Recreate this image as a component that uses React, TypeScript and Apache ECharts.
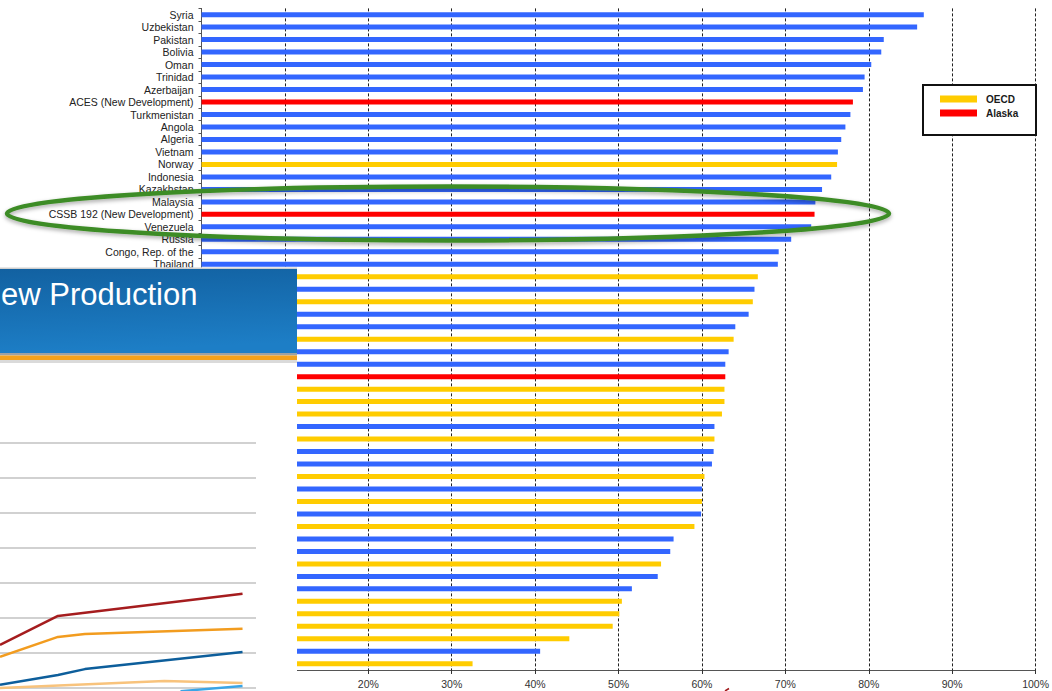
import React, { useEffect, useRef } from "react";
import * as echarts from "echarts";

// Recovery share by country / project, top to bottom
const countries = [
  "Syria", "Uzbekistan", "Pakistan", "Bolivia", "Oman", "Trinidad", "Azerbaijan",
  "ACES (New Development)", "Turkmenistan", "Angola", "Algeria", "Vietnam", "Norway",
  "Indonesia", "Kazakhstan", "Malaysia", "CSSB 192 (New Development)", "Venezuela",
  "Russia", "Congo, Rep. of the", "Thailand",
  // rows whose names sit under the inset panel
  "", "", "", "", "", "", "", "", "", "", "", "", "", "", "", "",
  "", "", "", "", "", "", "", "", "", "", "", "", "", "", "", "",
];

const shares = [
  86.6, 85.8, 81.8, 81.5, 80.3, 79.5, 79.3, 78.1, 77.8, 77.2, 76.7, 76.3, 76.2,
  75.5, 74.4, 73.6, 73.5, 73.1, 70.7, 69.2, 69.1,
  66.7, 66.3, 66.1, 65.6, 64.0, 63.8, 63.2, 62.8, 62.8, 62.7, 62.7, 62.4, 61.5,
  61.5, 61.4, 61.2, 60.3, 60.0, 60.0, 59.9, 59.1, 56.6, 56.2, 55.1, 54.7, 51.6,
  50.4, 50.1, 49.3, 44.1, 40.6, 32.5,
];

// o = other, e = OECD, a = Alaska
const groups = [
  "o", "o", "o", "o", "o", "o", "o", "a", "o", "o", "o", "o", "e",
  "o", "o", "o", "a", "o", "o", "o", "o",
  "e", "o", "e", "o", "o", "e", "o", "o", "a", "e", "e", "e", "o",
  "e", "o", "o", "e", "o", "e", "o", "e", "o", "o", "e", "o", "o",
  "e", "e", "e", "e", "o", "e",
];

const shareTicks = [0, 10, 20, 30, 40, 50, 60, 70, 80, 90, 100];

// Inset production curves: [period, level]
const curveRed = [[0, 1.23], [2.15, 2.06], [9.0, 2.69]];
const curveOrange = [[0, 0.89], [2.15, 1.46], [3.15, 1.54], [9.0, 1.69]];
const curveNavy = [[0, 0.09], [2.15, 0.37], [3.15, 0.54], [9.0, 1.03]];
const curvePeach = [[0, 0.0], [6.1, 0.2], [9.0, 0.14]];
const curveSky = [[6.7, -0.09], [9.0, 0.06]];

const FONT = "'Liberation Sans', Arial, sans-serif";

function groupSeries(name: string, key: string, color: string) {
  return {
    name,
    type: "bar",
    stack: "share",
    barWidth: 5,
    xAxisIndex: 0,
    yAxisIndex: 0,
    itemStyle: { color },
    data: shares.map((v, i) => (groups[i] === key ? v : "-")),
  };
}

function curve(data: number[][], color: string) {
  return {
    type: "line",
    xAxisIndex: 1,
    yAxisIndex: 1,
    showSymbol: false,
    clip: false,
    z: 25,
    lineStyle: { color, width: 2.5 },
    data,
  };
}

export default function App() {
  const ref = useRef<HTMLDivElement>(null);

  useEffect(() => {
    if (!ref.current) return;
    const chart = echarts.init(ref.current, undefined, { renderer: "svg" });

    const option = {
      animation: false,
      backgroundColor: "#ffffff",
      textStyle: { fontFamily: FONT },
      grid: [
        { left: 201.5, right: 13.5, top: 8.4, bottom: 21 },
        { left: 0, top: 443, width: 256, height: 245 },
      ],
      xAxis: [
        {
          type: "value",
          gridIndex: 0,
          min: shareTicks[0],
          max: shareTicks[shareTicks.length - 1],
          interval: 10,
          axisLine: { show: true, lineStyle: { color: "#555", width: 1 } },
          axisTick: { show: true, length: 4, lineStyle: { color: "#333" } },
          axisLabel: {
            margin: 8,
            fontSize: 10.5,
            color: "#333",
            fontFamily: FONT,
            // the two leftmost labels fall behind the inset panel
            formatter: (v: number) => (v >= 20 ? `${v}%` : ""),
          },
          splitLine: {
            show: true,
            lineStyle: { color: "#222", width: 1, type: [3, 2] },
          },
        },
        {
          type: "value",
          gridIndex: 1,
          min: 0,
          max: 9.5,
          show: false,
        },
      ],
      yAxis: [
        {
          type: "category",
          gridIndex: 0,
          inverse: true,
          data: countries,
          axisLine: { show: true, lineStyle: { color: "#555", width: 1 } },
          axisTick: { show: true, length: 3, lineStyle: { color: "#555" } },
          axisLabel: {
            margin: 8,
            fontSize: 10.5,
            color: "#222",
            fontFamily: FONT,
            interval: 0,
          },
          splitLine: { show: false },
        },
        {
          type: "value",
          gridIndex: 1,
          min: 0,
          max: 7,
          interval: 1,
          z: 20,
          axisLine: { show: false },
          axisTick: { show: false },
          axisLabel: { show: false },
          splitLine: { show: true, lineStyle: { color: "#C2C2C2", width: 1.5 } },
        },
      ],
      legend: {
        data: ["OECD", "Alaska"],
        orient: "vertical",
        left: 940,
        top: 93,
        padding: 0,
        itemGap: 2,
        itemWidth: 37,
        itemHeight: 7,
        icon: "rect",
        selectedMode: false,
        z: 8,
        textStyle: {
          fontFamily: FONT,
          fontSize: 10,
          fontWeight: "bold",
          color: "#1a1a1a",
          padding: [0, 0, 0, 4],
          lineHeight: 12,
        },
      },
      series: [
        groupSeries("Other", "o", "#3366FF"),
        groupSeries("OECD", "e", "#FFCC00"),
        groupSeries("Alaska", "a", "#FF0000"),
        curve(curveRed, "#A51C1E"),
        curve(curveOrange, "#F29C1F"),
        curve(curveNavy, "#0D5E9B"),
        curve(curvePeach, "#F8C37C"),
        curve(curveSky, "#3AA5E6"),
      ],
      graphic: [
        // legend frame
        {
          type: "rect",
          z: 5,
          shape: { x: 923, y: 85, width: 113, height: 50 },
          style: { fill: "#ffffff", stroke: "#111", lineWidth: 2 },
        },
        // highlight ring around the CSSB 192 row
        {
          type: "ellipse",
          z: 15,
          shape: { cx: 448, cy: 213.5, rx: 441, ry: 27 },
          style: {
            fill: "none",
            stroke: "#3E8C27",
            lineWidth: 4.5,
            shadowBlur: 4,
            shadowOffsetY: 2,
            shadowColor: "rgba(0,0,0,0.35)",
          },
        },
        // inset slide panel
        {
          type: "rect",
          z: 10,
          shape: { x: 0, y: 267.5, width: 297, height: 424 },
          style: { fill: "#ffffff" },
        },
        {
          type: "rect",
          z: 11,
          shape: { x: 0, y: 267.5, width: 297, height: 1.5 },
          style: { fill: "#CFCFCF" },
        },
        {
          type: "rect",
          z: 11,
          shape: { x: 0, y: 269, width: 297, height: 84 },
          style: {
            fill: new echarts.graphic.LinearGradient(0, 0, 0.15, 1, [
              { offset: 0, color: "#1261A1" },
              { offset: 1, color: "#1D7EC6" },
            ]),
          },
        },
        {
          type: "rect",
          z: 11,
          shape: { x: 0, y: 353, width: 297, height: 2.5 },
          style: { fill: "#9DA1A4" },
        },
        {
          type: "rect",
          z: 11,
          shape: { x: 0, y: 355.5, width: 297, height: 4.5 },
          style: { fill: "#F4A11B" },
        },
        {
          type: "rect",
          z: 11,
          shape: { x: 0, y: 360, width: 297, height: 3 },
          style: { fill: "#DADADA" },
        },
        {
          type: "text",
          z: 12,
          x: 1,
          y: 294,
          style: {
            text: "ew Production",
            fill: "#ffffff",
            font: `31px ${FONT}`,
            textVerticalAlign: "middle",
          },
        },
        // small arrow tip below the axis
        {
          type: "line",
          z: 12,
          shape: { x1: 725, y1: 691, x2: 729, y2: 688.5 },
          style: { stroke: "#A0191B", lineWidth: 1.5 },
        },
      ],
    };

    chart.setOption(option as any);
    return () => chart.dispose();
  }, []);

  return (
    <div
      ref={ref}
      style={{ position: "fixed", left: 0, top: 0, width: 1052, height: 691 }}
    />
  );
}
